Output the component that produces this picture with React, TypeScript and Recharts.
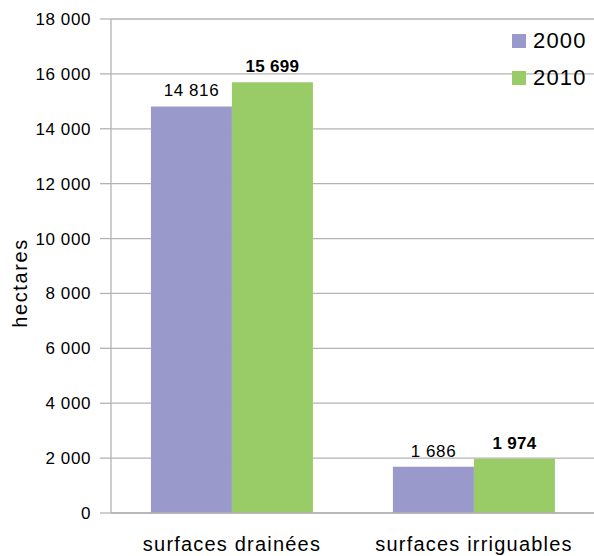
import React from 'react';
import { BarChart, Bar, XAxis, YAxis, CartesianGrid, LabelList, Label } from 'recharts';

const categories = ['surfaces drainées', 'surfaces irriguables'];
const values2000 = [14816, 1686];
const values2010 = [15699, 1974];
const yTicks = [0, 2000, 4000, 6000, 8000, 10000, 12000, 14000, 16000, 18000];
const seriesNames = ['2000', '2010'];

const data = categories.map((c, i) => ({ name: c, y2000: values2000[i], y2010: values2010[i] }));

const BLUE = '#9999cc';
const GREEN = '#99cc66';
const GRID = '#b3b3b3';
const FONT = '"Liberation Sans", Arial, sans-serif';

const fmt = (v: number) => String(v).replace(/\B(?=(\d{3})+(?!\d))/g, ' ');

function LegendBox() {
  const colors = [BLUE, GREEN];
  return (
    <div style={{ position: 'absolute', left: 512, top: 22, fontFamily: FONT, fontSize: 22, letterSpacing: 1.2, color: '#000' }}>
      {seriesNames.map((n, i) => (
        <div key={n} style={{ display: 'flex', alignItems: 'center', height: 37 }}>
          <span style={{ width: 14, height: 14, background: colors[i], display: 'inline-block', marginRight: 7 }} />
          <span>{n}</span>
        </div>
      ))}
    </div>
  );
}

export default function App() {
  return (
    <div style={{ position: 'absolute', left: 0, top: 0, width: 594, height: 556, overflow: 'hidden', background: '#fff' }}>
      <BarChart
        width={596}
        height={556}
        data={data}
        margin={{ top: 19, right: 1, bottom: 0, left: 0 }}
        barCategoryGap="16.5%"
        barGap={0}
        style={{ fontFamily: FONT }}
      >
        <CartesianGrid horizontal vertical={false} stroke={GRID} strokeWidth={1.3} />
        <XAxis
          xAxisId="edges"
          type="number"
          domain={[0, 2]}
          ticks={[0, 1, 2]}
          allowDataOverflow
          height={0}
          axisLine={false}
          tickLine={{ stroke: GRID, strokeWidth: 1.3 }}
          tickSize={12}
          tickFormatter={() => ''}
        />
        <XAxis
          dataKey="name"
          height={43}
          axisLine={{ stroke: GRID, strokeWidth: 1.3 }}
          tickLine={false}
          tick={{ fill: '#000', fontSize: 20, letterSpacing: 1.2, fontFamily: FONT }}
          tickMargin={18}
        />
        <YAxis
          width={111}
          domain={[0, 18000]}
          ticks={yTicks}
          interval={0}
          tickFormatter={fmt}
          axisLine={{ stroke: GRID, strokeWidth: 1.3 }}
          tickLine={{ stroke: GRID, strokeWidth: 1.3 }}
          tickSize={11}
          tickMargin={9}
          tick={{ fill: '#000', fontSize: 17, letterSpacing: 0.6, fontFamily: FONT }}
        >
          <Label
            content={({ viewBox }: any) => {
              const cx = 20;
              const cy = viewBox.y + viewBox.height / 2 + 17;
              return (
                <text x={cx} y={cy} transform={`rotate(-90 ${cx} ${cy})`} textAnchor="middle" dominantBaseline="central" fontSize={20} letterSpacing={1.6} fill="#000" fontFamily={FONT}>
                  hectares
                </text>
              );
            }}
          />
        </YAxis>
        <Bar dataKey="y2000" fill={BLUE} isAnimationActive={false}>
          <LabelList dataKey="y2000" position="top" offset={10} formatter={(v: any) => fmt(v)} fill="#000" fontSize={17} letterSpacing={0.6} fontFamily={FONT} />
        </Bar>
        <Bar dataKey="y2010" fill={GREEN} isAnimationActive={false}>
          <LabelList dataKey="y2010" position="top" offset={10} formatter={(v: any) => fmt(v)} fill="#000" fontSize={17} fontWeight="bold" letterSpacing={0.3} fontFamily={FONT} />
        </Bar>
      </BarChart>
      <LegendBox />
    </div>
  );
}
